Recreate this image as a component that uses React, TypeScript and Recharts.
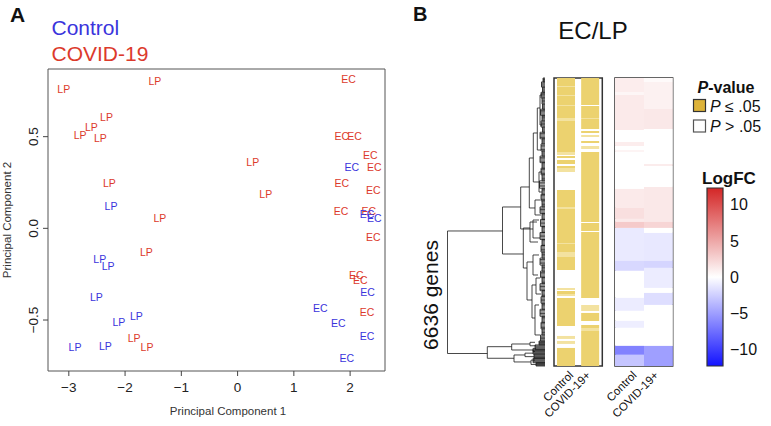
import {
  ScatterChart, Scatter, XAxis, YAxis, ReferenceArea, ReferenceLine,
  BarChart, Bar, Cell,
} from 'recharts'

const FONT = '"Liberation Sans", Arial, Helvetica, sans-serif'
const BLUE = '#3a34dc'
const RED = '#dc3a2c'
const N_GENES = 6636

// ---- panel A: PCA, one label per sample ----
const CTRL_PC1 = [-2.25, -2.45, -2.30, -2.51, -1.80, -2.11, -2.89, -2.35, 2.03, 2.30, 2.43, 2.31, 1.47, 1.79, 2.30, 1.94]
const CTRL_PC2 = [0.12, -0.167, -0.206, -0.376, -0.477, -0.509, -0.646, -0.640, 0.336, 0.078, 0.055, -0.349, -0.436, -0.518, -0.588, -0.709]
const CTRL_SITE = ['LP', 'LP', 'LP', 'LP', 'LP', 'LP', 'LP', 'LP', 'EC', 'EC', 'EC', 'EC', 'EC', 'EC', 'EC', 'EC']

const COVID_PC1 = [-3.09, -1.47, -2.33, -2.60, -2.80, -2.44, 0.27, -2.28, 0.50, -1.38, -1.62, -1.84, -1.61,
  1.97, 1.85, 2.08, 2.36, 2.43, 1.85, 2.41, 1.84, 2.33, 2.41, 2.11, 2.18, 2.30]
const COVID_PC2 = [0.759, 0.805, 0.606, 0.555, 0.509, 0.491, 0.364, 0.246, 0.186, 0.055, -0.131, -0.597, -0.646,
  0.813, 0.504, 0.504, 0.40, 0.333, 0.249, 0.209, 0.096, 0.096, -0.049, -0.256, -0.282, -0.455]
const COVID_SITE = ['LP', 'LP', 'LP', 'LP', 'LP', 'LP', 'LP', 'LP', 'LP', 'LP', 'LP', 'LP', 'LP',
  'EC', 'EC', 'EC', 'EC', 'EC', 'EC', 'EC', 'EC', 'EC', 'EC', 'EC', 'EC', 'EC']

const PC1_TICKS = [-3, -2, -1, 0, 1, 2]
const PC2_TICKS = [-0.5, 0, 0.5]
const PC1_DOMAIN = [-3.37, 2.62]
const PC2_DOMAIN = [-0.778, 0.869]

// ---- panel B: heatmaps (gene blocks from top to bottom) ----
const HEAT_COLUMNS = ['Control', 'COVID-19+']

// s = P <= .05, m = mixed rows, n = P > .05
const PVAL_CTRL_LEN = [184, 23, 185, 23, 207, 23, 277, 69, 714, 69, 23, 46, 46, 92, 47, 46, 92, 414, 392, 46, 784, 23, 184, 115, 300, 415, 46, 23, 69, 46, 46, 645, 230, 69, 46, 69, 92, 416]
const PVAL_CTRL_SIG = 'smsmsmsmsmnsnsnsmnsmsmsmsnmnsmnsnmnmns'
const PVAL_COVID_LEN = [622, 23, 277, 23, 230, 46, 46, 46, 46, 93, 46, 69, 69, 69, 1613, 23, 184, 23, 1521, 161, 138, 46, 185, 92, 69, 69, 807]
const PVAL_COVID_SIG = 'snsmsnsnmnsnmnsnsnsnmnsnsms'

const LFC_CTRL_LEN = [323, 69, 806, 276, 92, 92, 46, 852, 438, 253, 69, 138, 760, 230, 622, 300, 230, 161, 415, 207, 257]
const LFC_CTRL_VAL = [1.0, 0.5, 1.2, 0, 1.0, 0, 0.6, 0, 1.2, 1.8, 1.2, 3.0, -1.1, -2.0, 0, -1.0, 0, -0.9, 0, -6.5, -3.0]
const LFC_COVID_LEN = [92, 622, 461, 806, 46, 484, 806, 138, 115, 645, 161, 461, 115, 276, 945, 463]
const LFC_COVID_VAL = [0.3, 0.8, 1.3, 0, 1.1, 0, 1.3, 2.4, 0, -1.2, -2.2, -1.0, 0, -1.7, 0, -5.0]

const LFC_TICKS = [-10, -5, 0, 5, 10]
const LFC_MAX = 12.3

// dendrogram merges: [height, topChildY, topChildHeight, bottomChildY, bottomChildHeight]
const DENDRO_MERGES = [
  [97.5, 3525, 42.5, 6348, 57.7],
  [42.5, 2972, 24.3, 4055, 21.7],
  [24.3, 2511, 15.7, 3479, 12],
  [15.7, 1843, 11.7, 2995, 10],
  [11.7, 1267, 7.7, 2396, 6],
  [7.7, 691, 5, 1659, 4],
  [5, 392, 3, 1083, 3],
  [12, 3272, 6, 3686, 5],
  [10, 2811, 5, 3156, 4],
  [6, 2166, 3, 2627, 3],
  [21.7, 3456, 15, 4378, 18],
  [15, 3318, 8, 3779, 7],
  [18, 4239, 12, 5115, 13],
  [12, 4078, 6, 4539, 7],
  [13, 4769, 9, 5530, 10],
  [9, 4608, 5, 4977, 4],
  [10, 5230, 6, 5921, 5],
  [57.7, 6191, 33.3, 6458, 31],
  [33.3, 6129, 15, 6267, 12],
  [31, 6382, 20, 6543, 14],
  [15, 6090, 10, 6170, 9],
  [12, 6230, 9, 6300, 10],
  [20, 6340, 12, 6420, 11],
  [14, 6500, 10, 6600, 9],
]
// small leaf clusters: [top, bottom, height]
const DENDRO_TUFTS = [
  [0, 90, 2], [90, 210, 3.5], [210, 330, 2.5], [330, 460, 4], [460, 600, 3], [600, 720, 2.5], [720, 860, 4.5],
  [860, 990, 3], [990, 1130, 4], [1130, 1250, 2.5], [1250, 1400, 5], [1400, 1520, 3], [1520, 1680, 4],
  [1680, 1800, 3], [1800, 1950, 5], [1950, 2080, 3], [2080, 2230, 4], [2230, 2370, 3], [2370, 2540, 5.5],
  [2540, 2680, 3], [2680, 2830, 4], [2830, 2970, 3], [2970, 3120, 5], [3120, 3260, 3], [3260, 3420, 4.5],
  [3420, 3560, 3], [3560, 3720, 5], [3720, 3860, 3], [3860, 4010, 4], [4010, 4150, 3], [4150, 4310, 5],
  [4310, 4450, 3], [4450, 4600, 4.5], [4600, 4740, 3], [4740, 4900, 5], [4900, 5040, 3], [5040, 5190, 4],
  [5190, 5330, 3], [5330, 5490, 5], [5490, 5630, 3], [5630, 5780, 4], [5780, 5920, 3], [5920, 6060, 4.5],
  [6060, 6150, 6], [6150, 6260, 10], [6260, 6360, 12], [6360, 6460, 11], [6460, 6560, 12], [6560, 6636, 9],
]
const TUFT_SPLITS = [0, 0.2, 0.4, 0.6, 0.8, 1]

const SIG_COLOR: Record<string, string> = { s: '#ecd26f', m: '#f3e2a0', n: '#ffffff' }

const minus = (s: string) => s.replace('-', '\u2212')

function mix(c: number[], t: number) {
  const k = Math.min(Math.abs(t), 1)
  return `rgb(${c.map(v => Math.round(255 + (v - 255) * k)).join(',')})`
}
function lfcColor(v: number) {
  return v >= 0 ? mix([212, 38, 38], v / LFC_MAX) : mix([18, 18, 255], v / LFC_MAX)
}

function toPoints(pc1: number[], pc2: number[], site: string[]) {
  return pc1.map((x, i) => ({ pc1: x, pc2: pc2[i], site: site[i] }))
}

function stackRows(lens: number[][]) {
  return HEAT_COLUMNS.map((name, j) => {
    const row: any = { name }
    lens[j].forEach((v, i) => { row['s' + i] = v })
    return row
  })
}

function siteShape(color: string) {
  return (p: any) => (
    <text x={p.cx} y={p.cy} textAnchor="middle" dominantBaseline="central"
      fontSize={10.5} fill={color} fontFamily={FONT}>{p.payload.site}</text>
  )
}

function PcaYTick({ x, y, payload }: any) {
  const tx = x - 5
  return (
    <text x={tx} y={y} transform={`rotate(-90 ${tx} ${y})`} textAnchor="middle"
      fontSize={13.5} fill="#222" fontFamily={FONT}>{minus(payload.value.toFixed(1))}</text>
  )
}

function ColTick({ x, y, payload }: any) {
  const tx = x + (payload.value === 'Control' ? 8 : 1)
  const ty = y + 10
  return (
    <text x={tx} y={ty} transform={`rotate(-45 ${tx} ${ty})`} textAnchor="end"
      fontSize={11.5} fill="#111" fontFamily={FONT}>{payload.value}</text>
  )
}

function heatBars(lens: number[][], colors: string[][]) {
  const nSeg = Math.max(...lens.map(l => l.length))
  return Array.from({ length: nSeg }, (_, i) => (
    <Bar key={i} dataKey={'s' + i} stackId="g" isAnimationActive={false}>
      {HEAT_COLUMNS.map((_c, j) => <Cell key={j} fill={colors[j][i] || '#fff'} />)}
    </Bar>
  ))
}

export default function App() {
  const ctrl = toPoints(CTRL_PC1, CTRL_PC2, CTRL_SITE)
  const covid = toPoints(COVID_PC1, COVID_PC2, COVID_SITE)

  const pLens = [PVAL_CTRL_LEN, PVAL_COVID_LEN]
  const pColors = [PVAL_CTRL_SIG.split('').map(c => SIG_COLOR[c]), PVAL_COVID_SIG.split('').map(c => SIG_COLOR[c])]
  const lLens = [LFC_CTRL_LEN, LFC_COVID_LEN]
  const lColors = [LFC_CTRL_VAL.map(lfcColor), LFC_COVID_VAL.map(lfcColor)]

  // opacity < 1 keeps text antialiasing grayscale (no coloured fringes)
  const box = (left: number, top: number, w: number, h: number): React.CSSProperties =>
    ({ position: 'absolute', left, top, width: w, height: h, opacity: 0.999 })

  const dendroLines: { a: any; b: any }[] = []
  DENDRO_MERGES.forEach(([h, y1, h1, y2, h2]) => {
    dendroLines.push({ a: { x: h, y: y1 }, b: { x: h, y: y2 } })
    dendroLines.push({ a: { x: h, y: y1 }, b: { x: h1, y: y1 } })
    dendroLines.push({ a: { x: h, y: y2 }, b: { x: h2, y: y2 } })
  })
  DENDRO_TUFTS.forEach(([t, b, h]) => {
    dendroLines.push({ a: { x: h, y: t }, b: { x: h, y: b } })
    TUFT_SPLITS.forEach(f => {
      const y = t + (b - t) * f
      dendroLines.push({ a: { x: h, y }, b: { x: 0, y } })
    })
  })

  return (
    <div style={{ position: 'absolute', left: 0, top: 0, width: 771, height: 426, background: '#fff', fontFamily: FONT }}>
      {/* panel A */}
      <div style={box(0, 0, 400, 426)}>
        <ScatterChart width={400} height={426} margin={{ top: 69, right: 15, bottom: 25, left: 18 }}>
          <XAxis type="number" dataKey="pc1" domain={PC1_DOMAIN} ticks={PC1_TICKS} allowDataOverflow
            axisLine={false} tickSize={5} tickMargin={6} height={30} tickLine={{ stroke: '#444' }}
            tick={{ fontSize: 13.5, fill: '#222', fontFamily: FONT }} tickFormatter={(v: number) => minus(String(v))} />
          <YAxis type="number" dataKey="pc2" domain={PC2_DOMAIN} ticks={PC2_TICKS} allowDataOverflow
            width={30} axisLine={false} tickSize={5} tickMargin={0} tickLine={{ stroke: '#444' }} tick={<PcaYTick />} />
          <ReferenceArea x1={PC1_DOMAIN[0]} x2={PC1_DOMAIN[1]} y1={PC2_DOMAIN[0]} y2={PC2_DOMAIN[1]}
            fill="none" stroke="#555" strokeWidth={1} fillOpacity={0} />
          <Scatter data={covid} shape={siteShape(RED)} isAnimationActive={false} />
          <Scatter data={ctrl} shape={siteShape(BLUE)} isAnimationActive={false} />
        </ScatterChart>
      </div>

      {/* dendrogram */}
      <div style={box(440, 70, 110, 300)}>
        <ScatterChart width={110} height={300} margin={{ top: 8, right: 5, bottom: 4, left: 5 }}>
          <XAxis type="number" dataKey="x" domain={[0, 100]} reversed hide />
          <YAxis type="number" dataKey="y" domain={[0, N_GENES]} reversed hide />
          <Scatter data={[{ x: 0, y: 0 }]} shape={() => <g />} isAnimationActive={false} />
          {dendroLines.map((l, i) => (
            <ReferenceLine key={i} segment={[l.a, l.b]} stroke="#1a1a1a" strokeWidth={0.8} />
          ))}
        </ScatterChart>
      </div>

      {/* P-value heatmap */}
      <div style={box(520, 70, 100, 356)}>
        <BarChart width={100} height={356} data={stackRows(pLens)} barCategoryGap={3}
          margin={{ top: 8, right: 17.7, bottom: 0, left: 34 }}>
          <XAxis dataKey="name" axisLine={false} tickLine={false} tickSize={0} tickMargin={0}
            height={60} interval={0} tick={<ColTick />} />
          <YAxis type="number" domain={[0, N_GENES]} reversed hide />
          {heatBars(pLens, pColors)}
          <ReferenceArea y1={0} y2={N_GENES} fill="none" fillOpacity={0} stroke="#333" strokeWidth={1.5} />
        </BarChart>
      </div>

      {/* LogFC heatmap */}
      <div style={box(590, 70, 100, 356)}>
        <BarChart width={100} height={356} data={stackRows(lLens)} barCategoryGap={0}
          margin={{ top: 8, right: 17.3, bottom: 0, left: 25 }}>
          <XAxis dataKey="name" axisLine={false} tickLine={false} tickSize={0} tickMargin={0}
            height={60} interval={0} tick={<ColTick />} />
          <YAxis type="number" domain={[0, N_GENES]} reversed hide />
          {heatBars(lLens, lColors)}
          <ReferenceArea y1={0} y2={N_GENES} fill="none" fillOpacity={0} stroke="#333" strokeWidth={1.5} />
        </BarChart>
      </div>

      {/* LogFC colour bar */}
      <div style={box(690, 180, 81, 200)}>
        <BarChart width={81} height={200} data={[{ name: 'LogFC', range: [-LFC_MAX, LFC_MAX] }]} barCategoryGap={0}
          margin={{ top: 8, right: 8, bottom: 14, left: 17 }}>
          <defs>
            <linearGradient id="lfcGrad" x1="0" y1="0" x2="0" y2="1">
              <stop offset="0" stopColor="#d42626" />
              <stop offset="0.5" stopColor="#ffffff" />
              <stop offset="1" stopColor="#1212ff" />
            </linearGradient>
          </defs>
          <XAxis dataKey="name" hide />
          <YAxis type="number" orientation="right" domain={[-LFC_MAX, LFC_MAX]} ticks={LFC_TICKS} width={40}
            axisLine={false} tickLine={false} tickSize={0} tickMargin={7} interval={0}
            tick={{ fontSize: 16, fill: '#111', fontFamily: FONT, textAnchor: 'start' }}
            tickFormatter={(v: number) => minus(String(v))} />
          <Bar dataKey="range" fill="url(#lfcGrad)" stroke="#333" strokeWidth={1.2} isAnimationActive={false} />
        </BarChart>
      </div>

      {/* titles and legend text */}
      <svg width={771} height={426} style={{ position: 'absolute', left: 0, top: 0, pointerEvents: 'none', opacity: 0.999 }}
        fontFamily={FONT}>
        <text x={10} y={22} fontSize={21} fontWeight="bold" fill="#111">A</text>
        <text x={51.5} y={35} fontSize={21} fill={BLUE}>Control</text>
        <text x={51.5} y={61} fontSize={21} fill={RED}>COVID-19</text>
        <text x={228} y={415} fontSize={11.5} fill="#333" textAnchor="middle">Principal Component 1</text>
        <text x={10.5} y={220} fontSize={11.5} fill="#333" textAnchor="middle" transform="rotate(-90 10.5 220)">Principal Component 2</text>

        <text x={413} y={21} fontSize={20} fontWeight="bold" fill="#111">B</text>
        <text x={593} y={39} fontSize={24} fill="#111" textAnchor="middle">EC/LP</text>
        <text x={438} y={295} fontSize={21} fill="#111" textAnchor="middle" transform="rotate(-90 438 295)">6636 genes</text>

        <text x={726} y={93} fontSize={16} fontWeight="bold" fill="#111" textAnchor="middle">
          <tspan fontStyle="italic">P</tspan>-value
        </text>
        <rect x={693.5} y={99.5} width={12} height={12} fill="#ddb33a" stroke="#333" strokeWidth={1.2} />
        <text x={710} y={111.5} fontSize={16} fill="#111"><tspan fontStyle="italic">P</tspan> ≤ .05</text>
        <rect x={693.5} y={120} width={12} height={12} fill="#fff" stroke="#555" strokeWidth={1.2} />
        <text x={710} y={132} fontSize={16} fill="#111"><tspan fontStyle="italic">P</tspan> &gt; .05</text>
        <text x={729} y={183.5} fontSize={17} fontWeight="bold" fill="#111" textAnchor="middle">LogFC</text>
      </svg>
    </div>
  )
}
